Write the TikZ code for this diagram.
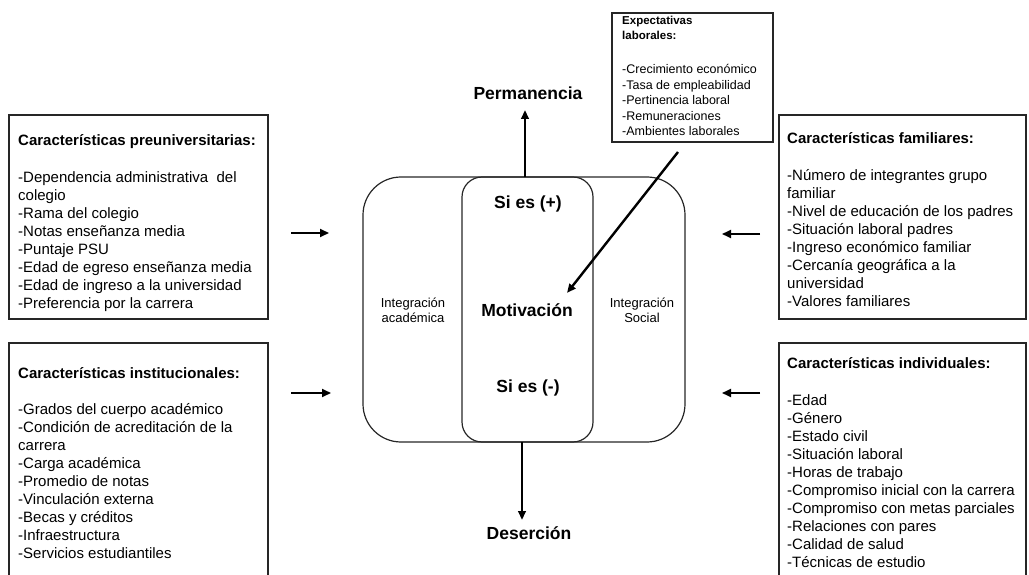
\documentclass[tikz,border=0pt]{standalone}
\usepackage{fontspec}
\setmainfont{Liberation Sans}
\usetikzlibrary{arrows.meta}
\begin{document}
\begin{tikzpicture}[x=1pt,y=-1pt,
  box/.style={draw=black!85, line width=1.3pt, inner sep=0pt, outer sep=0pt},
  boxtext/.style={anchor=base west, inner sep=0pt, font=\fontsize{15}{18}\selectfont},
  lbl/.style={font=\fontsize{17.5}{21}\selectfont\bfseries, inner sep=1pt},
  sidelbl/.style={font=\fontsize{13}{15}\selectfont, align=center, inner sep=1pt},
  arr/.style={line width=2pt, -{Triangle[length=9pt,width=8pt]}},
  bigarr/.style={line width=2.4pt, -{Triangle[length=9pt,width=7.5pt]}},
  cshape/.style={draw=black!85, line width=1.2pt, inner sep=0pt, outer sep=0pt}
]
\useasboundingbox (0,0) rectangle (1029,575);

% ---- boxes
\node[box, minimum width=259pt, minimum height=204pt] (pre) at (138.5,217) {};
\node[box, minimum width=259pt, minimum height=237pt] (inst) at (138.5,461.5) {};
\node[box, minimum width=247pt, minimum height=204pt] (fam) at (902.5,217) {};
\node[box, minimum width=247pt, minimum height=237pt] (ind) at (902.5,461.5) {};
\node[box, minimum width=161pt, minimum height=129pt] (exp) at (692.5,77.5) {};

\node[boxtext] (pretext) at (18,145.5) {\parbox[t]{255pt}{\raggedright
\textbf{Características preuniversitarias:}\\[19pt]
-Dependencia administrativa\ \ del\\
colegio\\
-Rama del colegio\\
-Notas enseñanza media\\
-Puntaje PSU\\
-Edad de egreso enseñanza media\\
-Edad de ingreso a la universidad\\
-Preferencia por la carrera}};

\node[boxtext] (insttext) at (18,378.5) {\parbox[t]{255pt}{\raggedright
\textbf{Características institucionales:}\\[18pt]
-Grados del cuerpo académico\\
-Condición de acreditación de la\\
carrera\\
-Carga académica\\
-Promedio de notas\\
-Vinculación externa\\
-Becas y créditos\\
-Infraestructura\\
-Servicios estudiantiles}};

\node[boxtext] (famtext) at (787,143.5) {\parbox[t]{240pt}{\raggedright
\textbf{Características familiares:}\\[19pt]
-Número de integrantes grupo\\
familiar\\
-Nivel de educación de los padres\\
-Situación laboral padres\\
-Ingreso económico familiar\\
-Cercanía geográfica a la\\
universidad\\
-Valores familiares}};

\node[boxtext] (indtext) at (787,368.5) {\parbox[t]{240pt}{\raggedright
\textbf{Características individuales:}\\[19pt]
-Edad\\
-Género\\
-Estado civil\\
-Situación laboral\\
-Horas de trabajo\\
-Compromiso inicial con la carrera\\
-Compromiso con metas parciales\\
-Relaciones con pares\\
-Calidad de salud\\
-Técnicas de estudio}};

\node[anchor=base west, inner sep=0pt, font=\fontsize{12.5}{15.5}\selectfont] (exptext) at (622,24.5) {\parbox[t]{150pt}{\raggedright
{\fontsize{11.5}{15.5}\selectfont\bfseries Expectativas\\
laborales:}\\[18.5pt]
-Crecimiento económico\\
-Tasa de empleabilidad\\
-Pertinencia laboral\\
-Remuneraciones\\
-Ambientes laborales}};

% ---- central shapes
\node[cshape, rounded corners=38pt, minimum width=322pt, minimum height=265pt] (outer) at (524,309.5) {};
\node[cshape, rounded corners=20pt, minimum width=131pt, minimum height=265pt] (inner) at (527.5,309.5) {};

\node[lbl] (siplus) at (528,204) {Si es (+)};
\node[lbl] (motiv) at (527,310) {Motivación};
\node[lbl] (siminus) at (528,388) {Si es (-)};
\node[sidelbl] (acad) at (413,310.5) {Integración\\académica};
\node[sidelbl] (soc) at (642,310.5) {Integración\\Social};
\node[lbl] (perm) at (528,93) {Permanencia};
\node[lbl] (deser) at (529,533) {Deserción};

% ---- connectors
\coordinate (permtip) at (525,110);
\coordinate (desertip) at (522,520);
\draw[bigarr] (outer.north -| permtip) -- (permtip);
\draw[bigarr] (outer.south -| desertip) -- (desertip);

\coordinate (expstart) at (678,152);
\coordinate (motivtip) at (567,293);
\draw[bigarr] (expstart) -- (motivtip);

\coordinate (preA) at (291,233);
\coordinate (preB) at (329,233);
\coordinate (instA) at (291,393);
\coordinate (instB) at (331,393);
\coordinate (famA) at (760,234);
\coordinate (famB) at (722,234);
\coordinate (indA) at (760,393);
\coordinate (indB) at (722,393);
\draw[arr] (preA) -- (preB);
\draw[arr] (instA) -- (instB);
\draw[arr] (famA) -- (famB);
\draw[arr] (indA) -- (indB);
\end{tikzpicture}
\end{document}
